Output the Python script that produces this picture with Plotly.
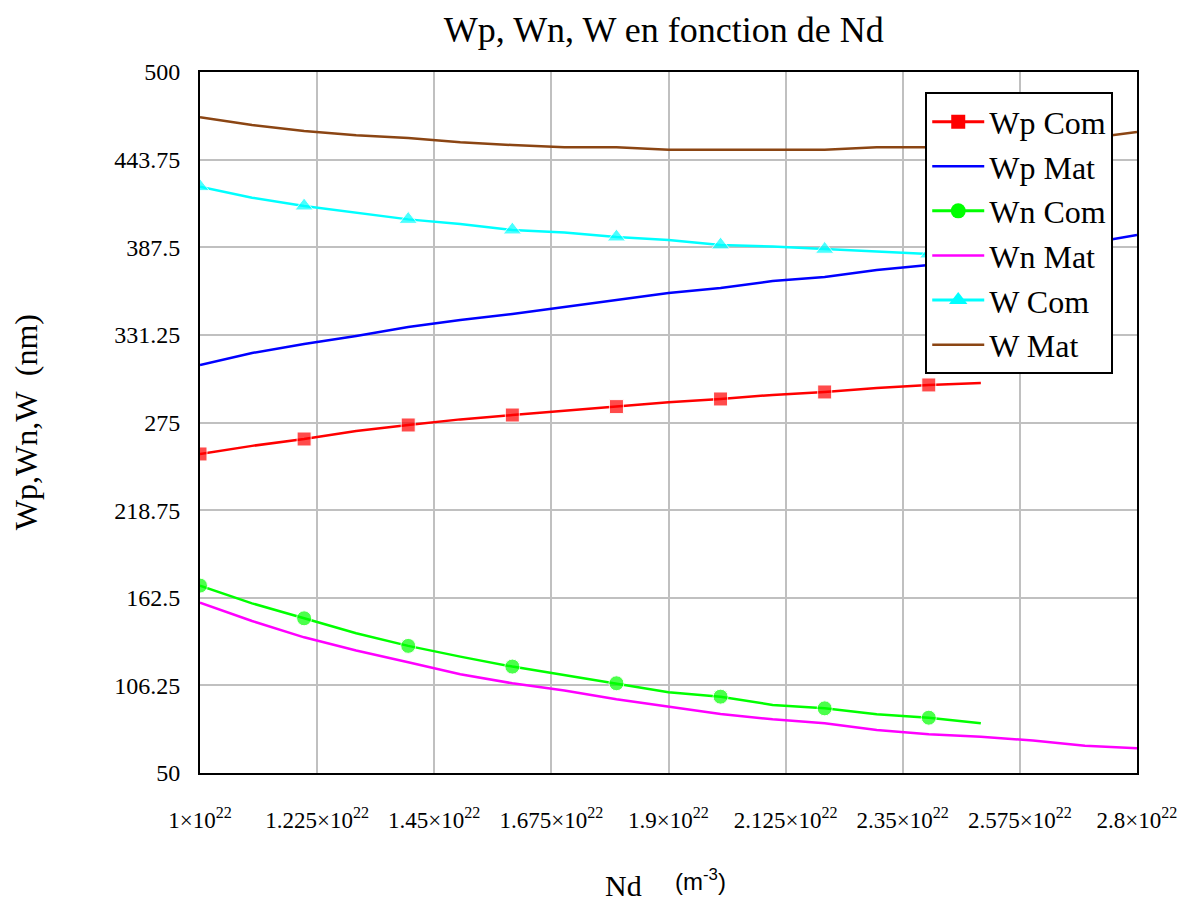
import plotly.graph_objects as go

# Nd values (units of 1e22 m^-3)
nd_com = [1.0, 1.1, 1.2, 1.3, 1.4, 1.5, 1.6, 1.7, 1.8, 1.9, 2.0, 2.1, 2.2, 2.3, 2.4, 2.5]
nd_mat = [1.0, 1.1, 1.2, 1.3, 1.4, 1.5, 1.6, 1.7, 1.8, 1.9, 2.0, 2.1, 2.2, 2.3, 2.4, 2.5, 2.6, 2.7, 2.8]

wp_com = [254.8, 260.0, 264.4, 269.6, 273.4, 277.0, 279.8, 282.4, 285.2, 288.0, 290.1, 292.7, 294.6, 297.2, 299.1, 300.4]
wn_com = [170.3, 158.9, 149.3, 139.7, 131.6, 124.7, 118.3, 112.9, 107.6, 101.9, 99.0, 93.7, 91.5, 87.7, 85.5, 81.9]
w_com = [426.4, 419.3, 414.0, 409.7, 405.4, 402.4, 398.6, 396.9, 394.1, 392.2, 389.0, 388.0, 386.2, 384.8, 383.2, 381.5]

wp_mat = [311.9, 319.6, 325.4, 330.5, 336.3, 340.8, 344.7, 349.2, 353.6, 358.1, 361.3, 365.8, 368.4, 372.9, 376.1, 380.6, 385.1, 389.6, 395.4]
wn_mat = [159.4, 147.6, 137.1, 128.6, 121.1, 113.4, 107.6, 102.9, 97.3, 92.6, 87.9, 84.5, 81.9, 77.6, 74.9, 73.3, 70.8, 67.5, 65.9]
w_mat = [470.9, 466.0, 462.1, 459.4, 457.6, 454.9, 453.1, 451.7, 451.7, 450.1, 450.1, 450.1, 450.1, 451.7, 451.7, 453.9, 455.9, 457.1, 461.5]

x_ticks = [1.0, 1.225, 1.45, 1.675, 1.9, 2.125, 2.35, 2.575, 2.8]
x_tick_labels = ["1", "1.225", "1.45", "1.675", "1.9", "2.125", "2.35", "2.575", "2.8"]
y_ticks = [50, 106.25, 162.5, 218.75, 275, 331.25, 387.5, 443.75, 500]
y_tick_labels = ["50", "106.25", "162.5", "218.75", "275", "331.25", "387.5", "443.75", "500"]

SCALE = 1e22
xc = [v * SCALE for v in nd_com]
xm = [v * SCALE for v in nd_mat]

serif = "Liberation Serif"


def every_other(n, size):
    return [size if i % 2 == 0 else 0 for i in range(n)]


series = [
    ("Wp Com", xc, wp_com, "#ff0000", "square", 14),
    ("Wp Mat", xm, wp_mat, "#0000ff", None, 0),
    ("Wn Com", xc, wn_com, "#00ff00", "circle", 15),
    ("Wn Mat", xm, wn_mat, "#ff00ff", None, 0),
    ("W Com", xc, w_com, "#00ffff", "triangle-up", 16),
    ("W Mat", xm, w_mat, "#8b4513", None, 0),
]

fig = go.Figure()
for name, xs, ys, col, sym, sz in series:
    if sym:
        fig.add_trace(go.Scatter(x=xs, y=ys, name=name, mode="lines+markers", showlegend=False,
                                 line=dict(color=col, width=2.5),
                                 marker=dict(symbol=sym, size=every_other(len(xs), sz), color=col)))
        # legend entry with a fixed-size marker
        fig.add_trace(go.Scatter(x=[None], y=[None], name=name, mode="lines+markers",
                                 line=dict(color=col, width=3),
                                 marker=dict(symbol=sym, size=sz, color=col)))
    else:
        fig.add_trace(go.Scatter(x=xs, y=ys, name=name, mode="lines",
                                 line=dict(color=col, width=2.5)))

fig.update_layout(
    width=1196, height=903,
    margin=dict(l=200, r=59, t=72, b=130),
    paper_bgcolor="white", plot_bgcolor="white",
    font=dict(family=serif, color="black"),
    title=dict(text="Wp, Wn, W en fonction de Nd", x=0.555, xanchor="center", y=0.967, yanchor="middle",
               font=dict(family=serif, size=36, color="black")),
    showlegend=True,
    legend=dict(x=0.774, y=0.971, xanchor="left", yanchor="top",
                bgcolor="white", bordercolor="black", borderwidth=2,
                font=dict(family=serif, size=32, color="black"),
                tracegroupgap=0, itemwidth=52),
    xaxis=dict(range=[1.0 * SCALE, 2.8 * SCALE], tickmode="array", tickvals=[v * SCALE for v in x_ticks],
               ticktext=[t + "\u00d710<sup>22</sup>" for t in x_tick_labels],
               tickfont=dict(family=serif, size=23, color="black"),
               showgrid=True, gridcolor="#c0c0c0", gridwidth=2,
               showline=True, linecolor="black", linewidth=2, mirror=True,
               ticks="", ticklabelstandoff=25, zeroline=False),
    yaxis=dict(range=[50, 500], tickmode="array", tickvals=y_ticks, ticktext=y_tick_labels,
               tickfont=dict(family=serif, size=24, color="black"),
               showgrid=True, gridcolor="#c0c0c0", gridwidth=2,
               showline=True, linecolor="black", linewidth=2, mirror=True,
               ticks="", ticklabelstandoff=13, zeroline=False),
)

fig.add_annotation(xref="paper", yref="paper", x=-0.186, y=0.5, xanchor="center", yanchor="middle",
                   text="Wp,Wn,W  (nm)", textangle=-90, showarrow=False,
                   font=dict(family=serif, size=32, color="black"))
fig.add_annotation(xref="paper", yref="paper", x=0.452, y=-0.16, xanchor="center", yanchor="middle",
                   text="Nd", showarrow=False, font=dict(family=serif, size=30, color="black"))
fig.add_annotation(xref="paper", yref="paper", x=0.534, y=-0.152, xanchor="center", yanchor="middle",
                   text="(m<sup>-3</sup>)", showarrow=False,
                   font=dict(family="Liberation Sans", size=24, color="black"))

fig.write_html("out.html")
